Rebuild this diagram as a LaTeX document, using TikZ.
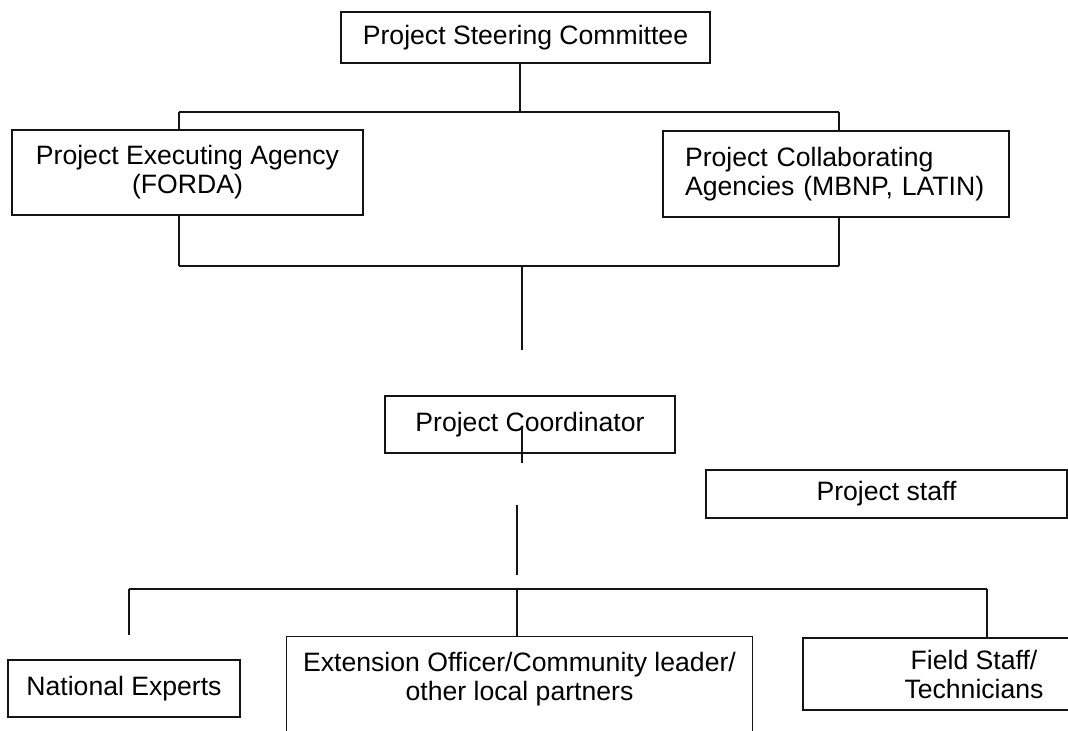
\documentclass[tikz,border=0pt]{standalone}
\usepackage{fontspec}
\setmainfont{Liberation Sans}
\definecolor{orgLine}{HTML}{141414}
\tikzset{
  orgfig/.style={
    x=0.5pt, y=-0.5pt,
    every node/.append style={font=\fontsize{13.3}{14.5}\selectfont},
  },
  orgbox/.style={
    draw=orgLine, line width=0.75pt, fill=white, align=center,
    inner sep=2pt,
  },
  % Kasten, dessen Unterkante abgeschnitten ist
  openbox/.style={draw=orgLine, line width=0.75pt},
  link/.style={draw=orgLine, line width=0.6pt},
  buslink/.style={link, line width=0.9pt},
}

\begin{document}
\begin{tikzpicture}[orgfig]
  \useasboundingbox (0,0) rectangle (1068,731);
  \clip (0,0) rectangle (1068,731);
  \fill[white] (0,0) rectangle (1068,731);
  % Verteiler
  \coordinate (TopL) at (179,112);
  \coordinate (TopR) at (839,112);
  \coordinate (TopM) at (520,112);
  \coordinate (LowL) at (179,266);
  \coordinate (LowR) at (839,266);
  \coordinate (LowM) at (522,266);
  \coordinate (CoordIn) at (522,350);
  \coordinate (CoordA) at (522,427);
  \coordinate (CoordB) at (522,463);
  \coordinate (StaffA) at (517,505);
  \coordinate (StaffB) at (517,575);
  \coordinate (BusL) at (129,589);
  \coordinate (BusM) at (517,589);
  \coordinate (BusR) at (987,589);
  \coordinate (NatEnd) at (129,635);
  \node[orgbox, minimum width=184.5pt, minimum height=25.5pt] (Steering) at (525.5,37.5) {Project Steering Committee};
  \node[orgbox, minimum width=175.5pt, minimum height=42.5pt] (Executing) at (187.5,172.5) {Project Executing Agency\\(FORDA)};
  \node[orgbox, align=left, inner xsep=11pt, text width=151pt, minimum height=43pt] (Collaborating) at (836,174) {Project Collaborating\\Agencies (MBNP, LATIN)};
  \node[orgbox, minimum width=145pt, minimum height=28.5pt] (Coordinator) at (530,424.5) {Project Coordinator};
  \node[orgbox, minimum width=180.5pt, minimum height=24pt] (Staff) at (886.5,494) {Project staff};
  \node[orgbox, minimum width=116pt, minimum height=28.5pt] (NatExperts) at (124,688.5) {National Experts};
  \node[align=center, minimum width=232.5pt, minimum height=42pt, inner sep=2pt] (Extension) at (519.5,679) {Extension Officer/Community leader/\\other local partners};
  \node[orgbox, minimum width=171pt, minimum height=36pt] (FieldStaff) at (974,674) {Field Staff/\\Technicians};
  \draw[openbox] ([yshift=-30pt]Extension.south west) -- (Extension.north west) -- (Extension.north east) -- ([yshift=-30pt]Extension.south east);
  % obere Ebene
  \draw[link] (Steering.south -| TopM) -- (TopM);
  \draw[link] (TopL) -- (TopR);
  \draw[link] (TopL) -- (TopL |- Executing.north);
  \draw[link] (TopL |- Executing.south) -- (LowL);
  \draw[link] (TopR) -- (TopR |- Collaborating.north);
  \draw[link] (TopR |- Collaborating.south) -- (LowR);
  \draw[link] (LowL) -- (LowR);
  \draw[link] (LowM) -- (CoordIn);
  \draw[link] (CoordA) -- (CoordB);
  % untere Ebene
  \draw[link] (StaffA) -- (StaffB);
  \draw[buslink] (BusL) -- (BusR);
  \draw[link] (BusL) -- (NatEnd);
  \draw[link] (BusM) -- (BusM |- Extension.north);
  \draw[buslink] (BusR) -- (BusR |- FieldStaff.north);
\end{tikzpicture}
\end{document}
